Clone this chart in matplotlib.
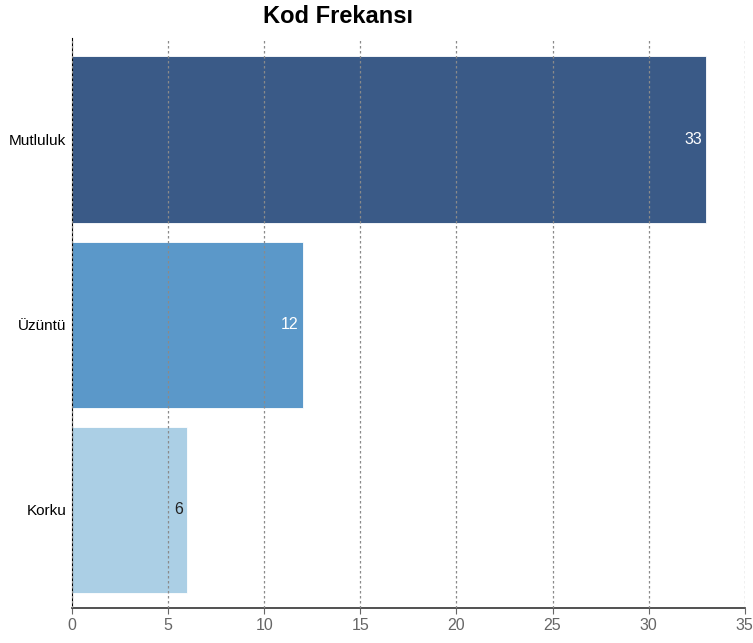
import numpy as np
import matplotlib as mpl
mpl.use('Agg')
import matplotlib.pyplot as plt

# chart data
categories = ['Mutluluk', 'Üzüntü', 'Korku']
counts = [33, 12, 6]
bar_colors = ['#3a5a87', '#5b98c9', '#abcfe5']
label_colors = ['white', 'white', '#222222']
x_ticks = [0, 5, 10, 15, 20, 25, 30, 35]

plt.rcParams['font.family'] = ['Liberation Sans', 'DejaVu Sans']

fig = plt.figure(figsize=(7.53, 6.43), dpi=100)
ax = fig.add_axes([0.0956, 0.0544, 0.8934, 0.8866])

pos = np.arange(len(categories))
bars = ax.barh(pos, counts, height=0.9, color=bar_colors,
               edgecolor='white', linewidth=0.6, zorder=1)

# value labels inside the bar ends
for b, v, c in zip(bars, counts, label_colors):
    ax.text(b.get_width() - 0.2, b.get_y() + b.get_height() / 2, str(v),
            ha='right', va='center', color=c, fontsize=11.5, zorder=3)

ax.set_yticks(pos)
ax.set_yticklabels(categories, fontsize=11, color='black')
ax.set_ylim(2.53, -0.55)
ax.set_xlim(0, 35)
ax.set_xticks(x_ticks)
ax.tick_params(axis='x', colors='#666666', labelsize=11.5, length=4)
ax.tick_params(axis='y', length=0, pad=4)

ax.grid(axis='x', linestyle=(0, (2, 2)), color='#8a8a8a', linewidth=0.9, zorder=2)
ax.set_axisbelow(False)

for s in ['top', 'right']:
    ax.spines[s].set_visible(False)
ax.spines['left'].set_color('black')
ax.spines['bottom'].set_color('#333333')
ax.spines['bottom'].set_linewidth(1.2)

fig.text(0.449, 0.975, 'Kod Frekansı', ha='center', va='center',
         fontsize=17, fontweight='bold')

plt.savefig('out.png', dpi=100)
plt.close()
